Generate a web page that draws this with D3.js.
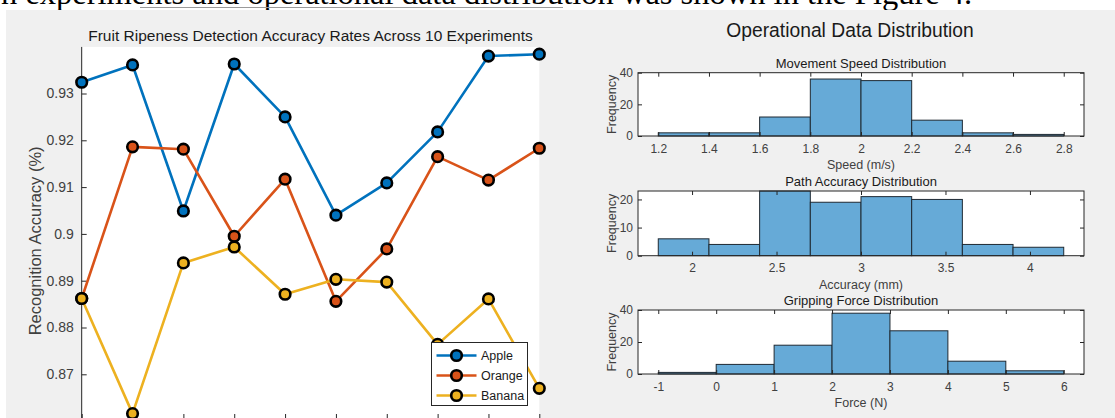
<!DOCTYPE html>
<html>
<head>
<meta charset="utf-8">
<script src="https://cdn.jsdelivr.net/npm/d3@7/dist/d3.min.js"></script>
<style>
  html, body { margin: 0; padding: 0; background: #ffffff; overflow: hidden; }
  svg { display: block; font-family: "Liberation Sans", Arial, sans-serif; }
</style>
</head>
<body>
<svg id="fig" width="1115" height="418"></svg>
<script>
// ---- data ----
const experiments = [1, 2, 3, 4, 5, 6, 7, 8, 9, 10];
const seriesNames = ["Apple", "Orange", "Banana"];
const appleAcc  = [0.9324, 0.9361, 0.9049, 0.9363, 0.9250, 0.9040, 0.9109, 0.9218, 0.9380, 0.9384];
const orangeAcc = [0.8862, 0.9186, 0.9181, 0.8995, 0.9117, 0.8856, 0.8968, 0.9165, 0.9115, 0.9183];
const bananaAcc = [0.8862, 0.8616, 0.8938, 0.8972, 0.8871, 0.8903, 0.8897, 0.8764, 0.8861, 0.8670];
const accTicks = [0.87, 0.88, 0.89, 0.90, 0.91, 0.92, 0.93];

const speedEdges  = [1.2, 1.4, 1.6, 1.8, 2.0, 2.2, 2.4, 2.6, 2.8];
const speedCounts = [2, 2, 12, 36, 35, 10, 2, 1];
const speedTicks  = [1.2, 1.4, 1.6, 1.8, 2.0, 2.2, 2.4, 2.6, 2.8];

const pathEdges  = [1.8, 2.1, 2.4, 2.7, 3.0, 3.3, 3.6, 3.9, 4.2];
const pathCounts = [6, 4, 23, 19, 21, 20, 4, 3];
const pathTicks  = [2, 2.5, 3, 3.5, 4];

const forceEdges  = [-1, 0, 1, 2, 3, 4, 5, 6];
const forceCounts = [1, 6, 18, 38, 27, 8, 2];
const forceTicks  = [-1, 0, 1, 2, 3, 4, 5, 6];

const colors = ["#0072BD", "#D95319", "#EDB120"];
const axisGrey = "#262626";
const labelGrey = "#404040";

const svg = d3.select("#fig");

// page background, the sentence above the figure, and the figure canvas
svg.append("rect").attr("width", 1115).attr("height", 418).attr("fill", "#ffffff");
svg.append("text")
  .attr("x", 1).attr("y", 4)
  .attr("font-family", "'Liberation Serif', 'Times New Roman', serif")
  .attr("font-size", 32.5).attr("fill", "#000")
  .text("n experiments and operational data distribution was shown in the Figure 4.");
svg.append("line").attr("x1", 140).attr("x2", 563).attr("y1", 7.5).attr("y2", 7.5)
  .attr("stroke", "#9a9a9a").attr("stroke-width", 1);
svg.append("rect").attr("x", 6).attr("y", 10).attr("width", 1109).attr("height", 408).attr("fill", "#f0f0f0");

// ---------------- line chart ----------------
const x = d3.scaleLinear().domain([1, 10]).range([81.7, 539.3]);
const y = d3.scaleLinear().domain([0.87, 0.93]).range([374.3, 93.5]);
const plotTop = y(0.93995), plotBottom = 419;

const left = svg.append("g");
left.append("rect")
  .attr("x", x(1)).attr("y", plotTop)
  .attr("width", x(10) - x(1)).attr("height", plotBottom - plotTop)
  .attr("fill", "#ffffff");

const yAxis = d3.axisLeft(y).tickValues(accTicks)
  .tickFormat(d => String(+d.toFixed(2)))
  .tickSizeInner(-5).tickSizeOuter(0).tickPadding(8);
const gy = left.append("g").attr("transform", `translate(${x(1)},0)`).call(yAxis);
gy.select(".domain").attr("d", `M0,${plotTop}V${plotBottom}`).attr("stroke", axisGrey);
gy.selectAll(".tick line").attr("stroke", axisGrey);
gy.selectAll(".tick text").attr("fill", labelGrey).attr("font-size", 14)
  .attr("font-family", "'Liberation Sans', Arial, sans-serif");

// bottom axis: its line and labels sit below the visible canvas, only tick marks show
const xAxis = d3.axisBottom(x).tickValues(experiments).tickFormat("")
  .tickSizeInner(-5).tickSizeOuter(0);
const gx = left.append("g").attr("transform", `translate(0,${plotBottom})`).call(xAxis);
gx.select(".domain").attr("stroke", axisGrey);
gx.selectAll(".tick line").attr("stroke", axisGrey);

left.append("text")
  .attr("x", x(5.5)).attr("y", 40.5)
  .attr("text-anchor", "middle").attr("font-size", 15.5).attr("fill", "#1a1a1a")
  .text("Fruit Ripeness Detection Accuracy Rates Across 10 Experiments");

left.append("text")
  .attr("transform", `translate(41,${(y(0.87) + y(0.93)) / 2 + 7}) rotate(-90)`)
  .attr("text-anchor", "middle").attr("font-size", 16.5).attr("fill", labelGrey)
  .text("Recognition Accuracy (%)");

const allSeries = [appleAcc, orangeAcc, bananaAcc];
const lineGen = d3.line().x((d, i) => x(experiments[i])).y(d => y(d));

allSeries.forEach((vals, s) => {
  const g = left.append("g");
  g.append("path").datum(vals).attr("d", lineGen)
    .attr("fill", "none").attr("stroke", colors[s]).attr("stroke-width", 2.6)
    .attr("stroke-linejoin", "round");
  g.selectAll("circle").data(vals).join("circle")
    .attr("cx", (d, i) => x(experiments[i])).attr("cy", d => y(d))
    .attr("r", 5.3).attr("fill", colors[s])
    .attr("stroke", "#000").attr("stroke-width", 2.6);
});

// legend
const lg = left.append("g").attr("transform", "translate(431.5,342.5)");
lg.append("rect").attr("width", 96).attr("height", 63)
  .attr("fill", "#ffffff").attr("stroke", axisGrey).attr("stroke-width", 1);
seriesNames.forEach((name, i) => {
  const ly = 13 + i * 20;
  lg.append("line").attr("x1", 5).attr("x2", 45).attr("y1", ly).attr("y2", ly)
    .attr("stroke", colors[i]).attr("stroke-width", 2.6);
  lg.append("circle").attr("cx", 25).attr("cy", ly).attr("r", 5.3)
    .attr("fill", colors[i]).attr("stroke", "#000").attr("stroke-width", 2.6);
  lg.append("text").attr("x", 49.5).attr("y", ly + 4.5)
    .attr("font-size", 12.5).attr("fill", "#1a1a1a").text(name);
});

// ---------------- histograms ----------------
svg.append("text")
  .attr("x", 850).attr("y", 36.5)
  .attr("text-anchor", "middle").attr("font-size", 19.3).attr("fill", "#1a1a1a")
  .text("Operational Data Distribution");

function histogram(opts) {
  const { edges, counts, ticks, yMax, yTicks, top, bottom, title, xlabel } = opts;
  const span = edges[edges.length - 1] - edges[0];
  const hx = d3.scaleLinear()
    .domain([edges[0] - 0.05 * span, edges[edges.length - 1] + 0.05 * span])
    .range([638, 1084]);
  const hy = d3.scaleLinear().domain([0, yMax]).range([bottom, top]);
  const g = svg.append("g");

  g.append("rect").attr("x", 638).attr("y", top)
    .attr("width", 1084 - 638).attr("height", bottom - top).attr("fill", "#ffffff");

  const bins = counts.map((c, i) => ({ x0: edges[i], x1: edges[i + 1], n: c }));
  g.selectAll("rect.bar").data(bins).join("rect").attr("class", "bar")
    .attr("x", d => hx(d.x0)).attr("width", d => hx(d.x1) - hx(d.x0))
    .attr("y", d => hy(d.n)).attr("height", d => hy(0) - hy(d.n))
    .attr("fill", "#66aad7").attr("stroke", "#1f2a33").attr("stroke-width", 1);

  const fmt = d => String(+d.toFixed(2));
  const styleAxis = sel => {
    sel.select(".domain").remove();
    sel.selectAll(".tick line").attr("stroke", axisGrey);
    sel.selectAll(".tick text").attr("fill", labelGrey).attr("font-size", 12);
  };
  g.append("g").attr("transform", `translate(0,${bottom})`)
    .call(d3.axisBottom(hx).tickValues(ticks).tickFormat(fmt).tickSizeInner(-4).tickPadding(8))
    .call(styleAxis);
  g.append("g").attr("transform", `translate(0,${top})`)
    .call(d3.axisTop(hx).tickValues(ticks).tickFormat("").tickSizeInner(-4))
    .call(styleAxis);
  g.append("g").attr("transform", `translate(638,0)`)
    .call(d3.axisLeft(hy).tickValues(yTicks).tickSizeInner(-4).tickPadding(5))
    .call(styleAxis);
  g.append("g").attr("transform", `translate(1084,0)`)
    .call(d3.axisRight(hy).tickValues(yTicks).tickFormat("").tickSizeInner(-4))
    .call(styleAxis);

  g.append("rect").attr("x", 638).attr("y", top)
    .attr("width", 1084 - 638).attr("height", bottom - top)
    .attr("fill", "none").attr("stroke", axisGrey).attr("stroke-width", 1);

  g.append("text").attr("x", 861).attr("y", top - 5)
    .attr("text-anchor", "middle").attr("font-size", 13).attr("fill", "#1a1a1a").text(title);
  g.append("text").attr("x", 861).attr("y", bottom + 33)
    .attr("text-anchor", "middle").attr("font-size", 12.5).attr("fill", labelGrey).text(xlabel);
  g.append("text")
    .attr("transform", `translate(615.5,${(top + bottom) / 2}) rotate(-90)`)
    .attr("text-anchor", "middle").attr("font-size", 12.5).attr("fill", labelGrey).text("Frequency");
}

histogram({ edges: speedEdges, counts: speedCounts, ticks: speedTicks, yMax: 40, yTicks: [0, 20, 40],
  top: 72.7, bottom: 136, title: "Movement Speed Distribution", xlabel: "Speed (m/s)" });
histogram({ edges: pathEdges, counts: pathCounts, ticks: pathTicks, yMax: 23, yTicks: [0, 10, 20],
  top: 191, bottom: 255.7, title: "Path Accuracy Distribution", xlabel: "Accuracy (mm)" });
histogram({ edges: forceEdges, counts: forceCounts, ticks: forceTicks, yMax: 40, yTicks: [0, 20, 40],
  top: 310, bottom: 374, title: "Gripping Force Distribution", xlabel: "Force (N)" });
</script>
</body>
</html>
